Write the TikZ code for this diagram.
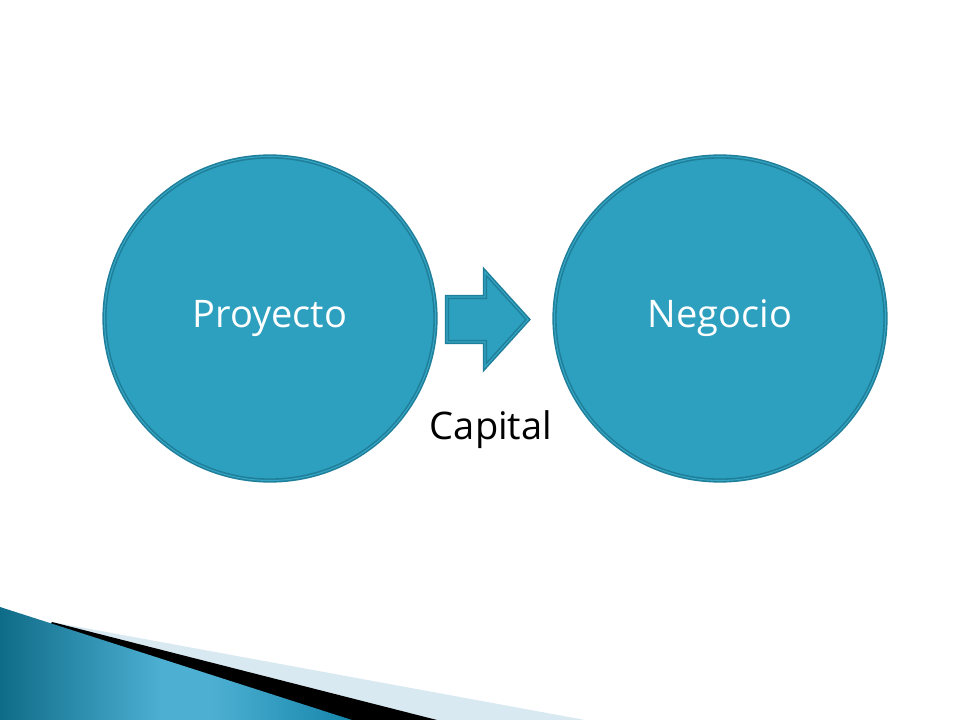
\documentclass[tikz,border=0pt]{standalone}
\usepackage{fontspec}
\setmainfont{Open Sans}
\definecolor{tealfill}{HTML}{2DA0BF}
\definecolor{tealedge}{HTML}{1F7F9A}
\definecolor{tealmid}{HTML}{35A6C4}
\definecolor{wedgedark}{HTML}{0F6C88}
\definecolor{wedgelight}{HTML}{4DB0D3}
\definecolor{wedgeend}{HTML}{1585AA}
\definecolor{paleblue}{HTML}{D8E9F1}
\pgfdeclarehorizontalshading{wedgeshade}{100bp}{color(0bp)=(wedgedark); color(25bp)=(wedgedark); color(48bp)=(wedgelight); color(55bp)=(wedgelight); color(75bp)=(wedgeend); color(100bp)=(wedgeend)}
\newlength{\pxu}\setlength{\pxu}{0.75pt}
\usetikzlibrary{shapes.geometric}
\tikzset{
  bubble/.style={ellipse, minimum width=331\pxu, minimum height=324\pxu, inner sep=0pt,
    fill=tealfill, draw=tealedge, line width=1.2pt, double=tealmid, double distance=0.8pt,
    text=white, font=\fontsize{28.5}{34}\selectfont},
  blockarrow/.style={fill=tealfill, draw=tealedge, line width=1.2pt, double=tealmid, double distance=0.8pt, line join=miter},
  caption/.style={text=black, font=\fontsize{28.5}{34}\selectfont}
}
\begin{document}
\begin{tikzpicture}[x=0.75pt,y=-0.75pt]
\useasboundingbox (0,0) rectangle (960,720);
\fill[white] (0,0) rectangle (960,720);
% bottom decoration
\fill[paleblue] (52,622) -- (585,720) -- (0,720) -- cycle;
\fill[black] (52,622) -- (437,720) -- (0,720) -- cycle;
\shade[shading=wedgeshade] (0,607) -- (352,720) -- (0,720) -- cycle;
% circles
\node[bubble] (proyecto) at (270,318.5) {Proyecto};
\node[bubble] (negocio) at (720,318.5) {Negocio};
% arrow
\draw[blockarrow] (447,297) -- (485,297) -- (485,272) -- (528,319.5) -- (485,367) -- (485,342) -- (447,342) -- cycle;
\node[caption] (capital) at (491,430) {Capital};
\end{tikzpicture}
\end{document}
